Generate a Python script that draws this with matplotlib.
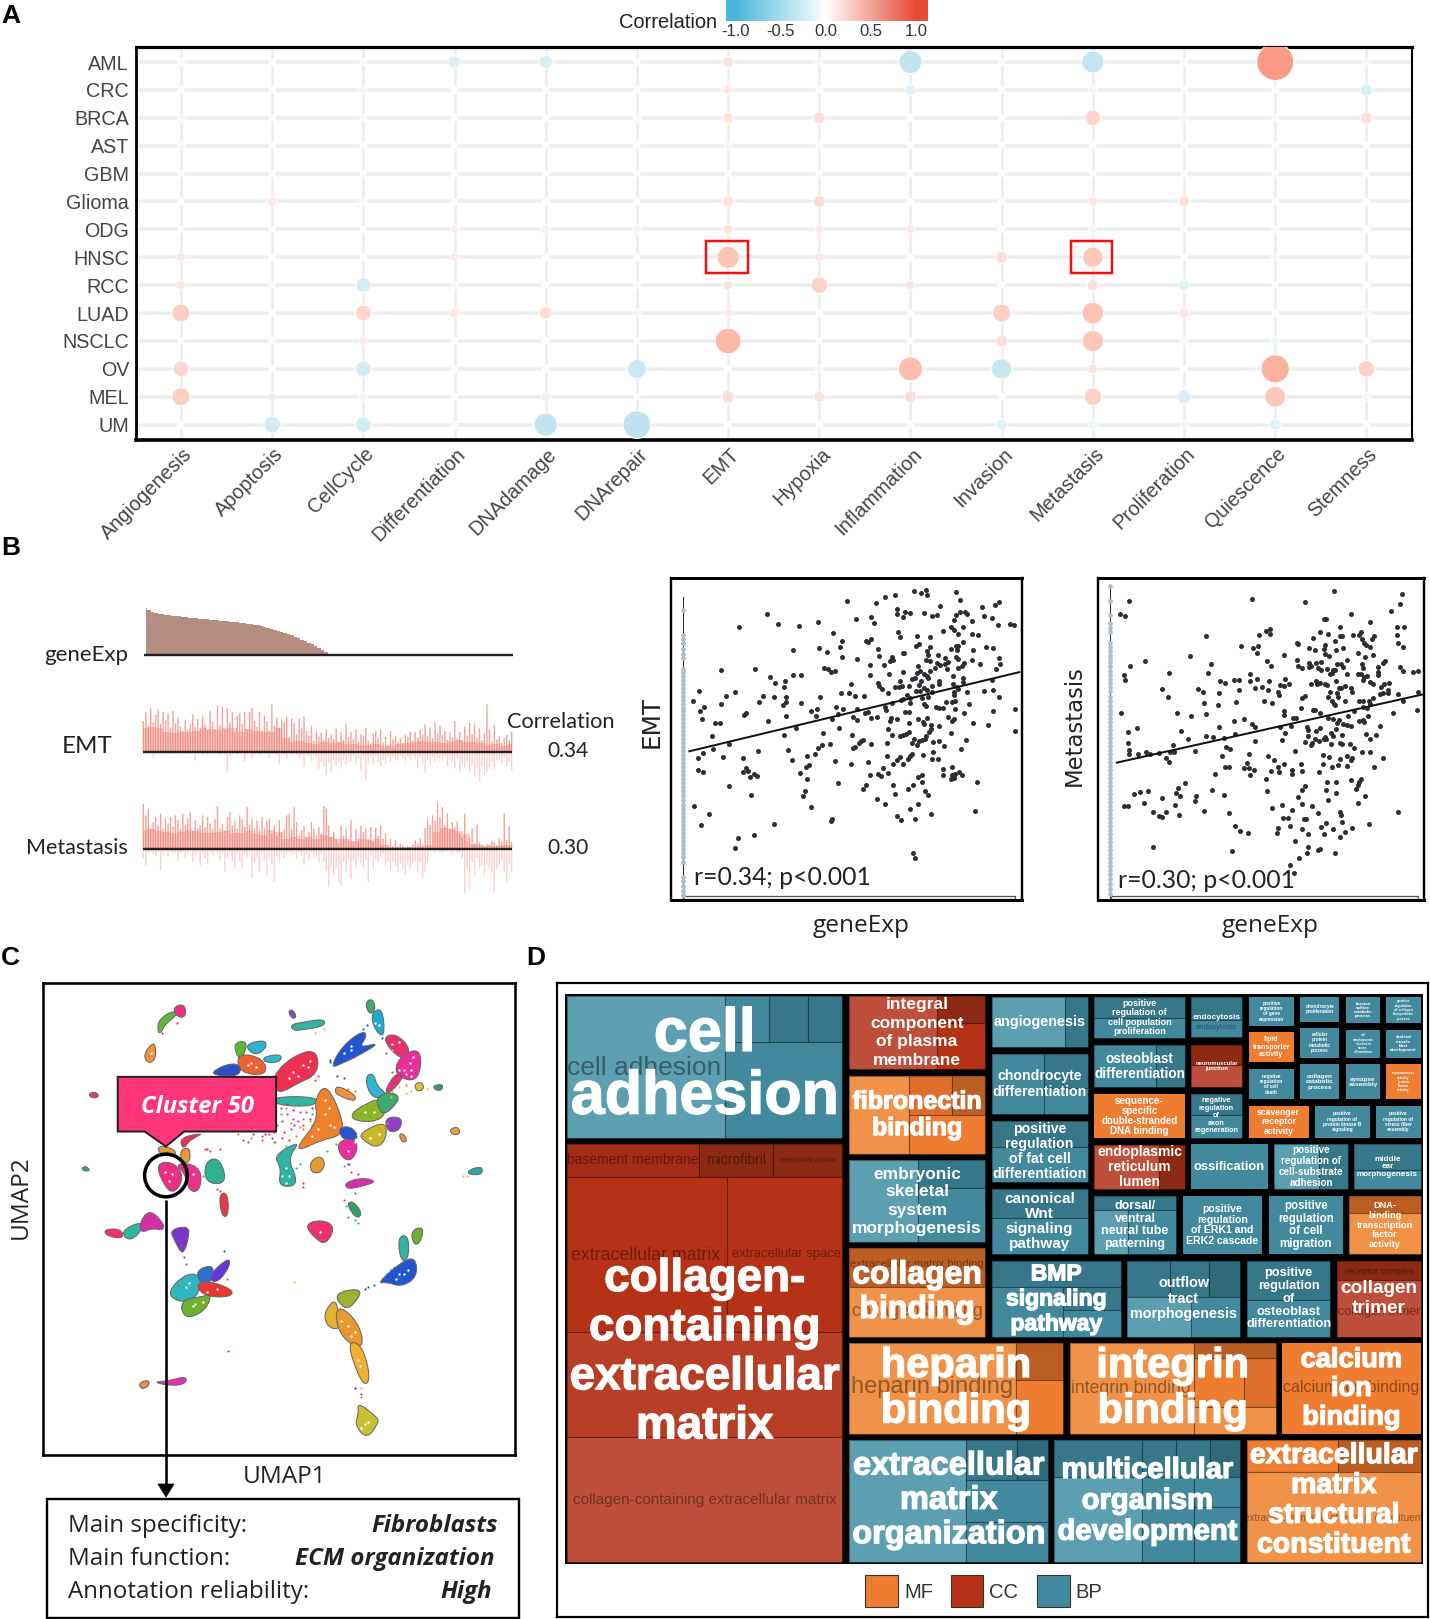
import numpy as np
import matplotlib
matplotlib.use("Agg")
import matplotlib.pyplot as plt
import matplotlib.patheffects as pe
from matplotlib.colors import LinearSegmentedColormap
from matplotlib.patches import Rectangle, Polygon, Ellipse, PathPatch
from matplotlib.path import Path

W, H = 1430, 1619
ARIAL = "Liberation Sans"
BODY = "Lato"

# ---------- Panel A data ----------
pathways = ["Angiogenesis", "Apoptosis", "CellCycle", "Differentiation", "DNAdamage", "DNArepair", "EMT",
            "Hypoxia", "Inflammation", "Invasion", "Metastasis", "Proliferation", "Quiescence", "Stemness"]
cancers = ["AML", "CRC", "BRCA", "AST", "GBM", "Glioma", "ODG", "HNSC", "RCC", "LUAD", "NSCLC", "OV", "MEL", "UM"]
r_AML = [.01, 0, .01, -.12, -.15, 0, .10, .02, -.36, .01, -.34, .01, .66, .03]
r_CRC = [0, -.01, .03, 0, 0, 0, .06, 0, -.09, 0, -.04, 0, 0, -.12]
r_BRCA = [.02, 0, .01, 0, 0, -.03, .09, .12, 0, 0, .2, -.05, .01, .12]
r_AST = [.02, 0, 0, 0, 0, 0, .03, .01, 0, 0, 0, 0, 0, 0]
r_GBM = [0, 0, 0, 0, 0, 0, 0, 0, 0, 0, 0, 0, 0, 0]
r_Glioma = [0, .06, .02, 0, -.02, 0, .1, .12, 0, .01, .07, .1, 0, 0]
r_ODG = [0, 0, 0, .04, -.06, -.05, .08, .05, .05, 0, .03, 0, .02, 0]
r_HNSC = [.06, 0, 0, .05, 0, 0, .34, .06, 0, .12, .30, 0, .02, 0]
r_RCC = [.06, 0, -.18, .02, 0, .01, .08, .22, .07, 0, .1, -.1, 0, 0]
r_LUAD = [.25, 0, .2, .07, .14, .03, .05, 0, 0, .25, .33, .08, 0, .03]
r_NSCLC = [0, 0, .05, 0, 0, 0, .42, 0, 0, .12, .32, -.03, -.06, 0]
r_OV = [.2, 0, -.2, 0, -.02, -.27, 0, .02, .38, -.3, .08, 0, .47, .22]
r_MEL = [.25, .05, -.04, 0, -.07, 0, .14, .1, .12, 0, .24, -.16, .31, -.04]
r_UM = [0, -.22, -.2, .01, -.36, -.46, 0, 0, .01, -.1, -.06, -.04, -.1, 0]
corr_rows = [r_AML, r_CRC, r_BRCA, r_AST, r_GBM, r_Glioma, r_ODG, r_HNSC, r_RCC, r_LUAD, r_NSCLC, r_OV, r_MEL, r_UM]
highlight = [("EMT", "HNSC"), ("Metastasis", "HNSC")]
cbar_ticks = [-1.0, -0.5, 0.0, 0.5, 1.0]

# ---------- Panel B data ----------
gene_exp = [47, 45, 43, 42, 41, 40.5, 40, 39.5, 39, 38.7, 38.3, 38, 37.5, 37, 36.7, 36.3, 36, 35.7, 35.3, 35, 34.7,
            34.4, 34, 33.7, 33.4, 33, 32.7, 32.3, 32, 31.5, 31, 30.5, 30, 29.3, 28.6, 27.8, 27, 26, 25, 24, 23, 21.8,
            20.5, 19.2, 17.8, 16.4, 15, 13.5, 12, 10.3, 8.5, 6.5, 4.5, 2.5, 1]
emt_up = [92, 118, 78, 130, 88, 110, 128, 82, 120, 95, 115, 72, 122, 85, 104, 75, 62, 96, 66, 82,
          112, 74, 98, 70, 108, 84, 64, 122, 90, 66, 138, 78, 135, 68, 130, 88, 118, 58, 108, 115,
          84, 120, 66, 118, 132, 92, 74, 120, 64, 108, 92, 64, 142, 78, 102, 72, 96, 88, 106, 45,
          100, 85, 52, 100, 72, 105, 62, 48, 78, 32, 62, 45, 56, 34, 66, 42, 52, 38, 70, 28,
          58, 36, 82, 44, 60, 38, 66, 30, 52, 48, 72, 34, 24, 54, 62, 40, 66, 28, 44, 20,
          62, 38, 48, 30, 40, 26, 50, 44, 60, 32, 58, 42, 66, 50, 82, 46, 72, 40, 88, 56,
          78, 50, 62, 36, 58, 44, 92, 40, 60, 34, 76, 48, 86, 52, 82, 40, 70, 34, 56, 142,
          66, 30, 80, 36, 46, 26, 40, 50, 34, 60]
emt_down = [0, 4, 2, 6, 20, 3, 2, 5, 2, 6, 2, 4, 3, 2, 5, 2, 3, 4, 2, 3,
            4, 26, 6, 3, 8, 4, 10, 2, 5, 3, 6, 12, 4, 8, 62, 14, 6, 3, 10, 5,
            4, 30, 6, 3, 22, 8, 4, 12, 3, 6, 5, 18, 4, 3, 8, 36, 5, 10, 22, 6,
            12, 4, 8, 20, 10, 46, 6, 14, 28, 10, 20, 52, 30, 44, 70, 36, 60, 24, 42, 30,
            50, 24, 38, 16, 30, 12, 40, 20, 58, 14, 84, 36, 18, 40, 14, 32, 44, 24, 36, 16,
            30, 18, 24, 28, 12, 20, 34, 16, 24, 12, 22, 50, 18, 36, 64, 24, 40, 16, 30, 20,
            18, 26, 14, 44, 24, 30, 50, 22, 60, 36, 48, 28, 64, 40, 74, 50, 88, 44, 70, 62,
            48, 30, 56, 26, 24, 36, 20, 44, 30, 58]
met_up = [135, 100, 120, 60, 80, 95, 70, 105, 60, 90, 75, 95, 65, 100, 85, 60, 105, 70, 90, 110,
          55, 85, 60, 70, 100, 65, 95, 75, 60, 88, 128, 60, 75, 55, 95, 110, 70, 85, 60, 100,
          88, 65, 125, 70, 90, 60, 85, 55, 95, 60, 85, 90, 45, 70, 38, 85, 50, 60, 100, 105,
          60, 125, 80, 40, 55, 68, 35, 50, 80, 60, 40, 65, 45, 128, 120, 70, 35, 50, 30, 15,
          70, 38, 60, 25, 85, 20, 60, 30, 70, 50, 62, 28, 65, 20, 62, 40, 70, 30, 45, 12,
          30, 8, 26, 6, 14, 10, 4, 8, 6, 12, 25, 16, 30, 10, 62, 90, 72, 100, 85, 140,
          95, 125, 70, 105, 60, 80, 65, 82, 45, 35, 105, 20, 30, 60, 15, 72, 18, 10, 6, 14,
          12, 24, 18, 10, 30, 22, 105, 26, 68, 20]
met_down = [30, 50, 12, 8, 15, 20, 10, 65, 18, 8, 25, 10, 15, 12, 38, 15, 10, 30, 14, 8,
            42, 20, 14, 50, 18, 28, 45, 12, 20, 8, 18, 35, 14, 70, 28, 12, 38, 60, 18, 40,
            60, 15, 28, 12, 90, 42, 25, 70, 18, 35, 85, 30, 50, 100, 22, 44, 15, 30, 18, 10,
            20, 14, 30, 12, 22, 48, 16, 34, 12, 24, 28, 42, 18, 38, 66, 115, 50, 80, 60, 100,
            110, 40, 70, 30, 90, 38, 60, 25, 44, 58, 34, 100, 20, 55, 30, 40, 24, 18, 50, 40,
            66, 38, 52, 70, 46, 60, 78, 50, 62, 44, 36, 70, 42, 88, 70, 40, 8, 5, 10, 6,
            10, 14, 8, 6, 10, 18, 6, 12, 12, 30, 135, 60, 120, 40, 75, 28, 60, 50, 80, 48,
            60, 70, 130, 60, 48, 34, 68, 100, 44, 70]
emt_body = [70, 75, 72, 60, 55, 60, 58, 62, 70, 68, 65, 70, 72, 60, 68, 62, 60, 60, 70, 40,
            30, 32, 25, 22, 28, 26, 30, 22, 24, 20, 20, 22, 18, 18, 22, 26, 30, 32, 28, 30,
            26, 30, 34, 30, 30, 25, 20, 22, 18, 24]
met_body = [55, 60, 52, 50, 48, 50, 55, 52, 48, 46, 50, 52, 46, 48, 52, 45, 40, 55, 50, 30,
            35, 30, 34, 28, 40, 35, 28, 30, 22, 30, 25, 28, 12, 6, 4, 4, 5, 8, 10, 50,
            62, 60, 52, 45, 14, 10, 8, 8, 10, 12]

emt_pts = [(732,48),(753,55),(769,46),(772,61),(858,51),(675,61),(644,67),(619,83),(531,78),(869,74),(988,81),(975,91),(935,95),(809,93),
(681,103),(704,110),(721,115),(681,118),(698,127),(763,113),(787,124),(800,120),(870,110),(885,111),(890,118),(858,120),(942,122),(965,129),(291,117),(604,127),(559,131),
(853,136),(907,138),(444,142),(613,145),(323,148),(388,154),(207,157),(844,155),(880,155),(983,151),(1021,146),(1033,149),(853,165),(818,168),
(489,175),(683,171),(863,177),(907,178),(925,180),(689,185),(741,183),(780,186),(603,191),(589,199),(594,201),(515,197),(878,200),
(747,206),(739,212),(509,216),(781,217),(858,212),(865,212),(842,222),(772,228),(446,220),(624,221),(948,217),(968,219),(910,224),(370,226),(472,231),(698,233),(703,234),(862,226),
(775,241),(626,243),(515,245),(665,246),(805,240),(825,250),(858,247),(988,248),(561,251),(659,258),(669,256),(767,256),(835,260),(906,256),(863,253),(781,258),
(600,271),(641,269),(801,265),(810,271),(825,267),(883,265),(990,267),(875,272),(931,268),(744,273),(865,279),(462,279),(473,282),(152,284),(256,283),(977,283),(484,290),(495,288),(781,287),(795,280),(830,282),(698,292),(740,295),(749,287),
(657,296),(369,300),(392,299),(601,300),(301,305),(762,297),(772,304),(848,302),(878,308),(727,311),(735,310),(775,308),(967,314),(346,318),(689,318),(807,318),(752,317),(878,322),
(315,325),(544,326),(623,323),(628,332),(341,336),(687,335),(697,333),(716,333),(808,328),(746,329),(785,333),(850,327),(860,334),(865,342),(636,342),(674,335),(763,338),(87,348),(196,350),(513,354),(537,352),(654,353),(770,345),(737,348),(751,346),(787,350),(853,350),(892,351),(942,346),(968,345),
(167,362),(280,362),(311,365),(349,364),(451,364),(555,362),(581,361),(710,360),(852,360),(721,368),(698,372),(692,373),(988,366),(666,382),(70,377),(267,380),(349,380),(392,383),(720,382),(757,369),(773,364),(828,380),(845,381),(855,377),
(154,387),(338,390),(497,396),(102,395),(440,400),(520,400),(561,400),(645,395),(762,385),(769,393),(797,394),(806,398),(820,398),(855,400),(897,387),(1034,402),(90,406),(424,406),(648,403),(594,410),(705,410),(717,410),(968,408),(881,413),(584,414),(503,416),(228,414),
(223,419),(347,421),(438,423),(548,424),(602,427),(622,425),(662,428),(680,430),(743,430),(835,425),(853,430),(97,430),(295,438),(487,431),(560,435),(758,440),(770,428),(660,438),(716,443),(846,436),(908,442),
(135,443),(149,443),(763,447),(783,448),(955,449),(378,459),(508,458),(655,460),(807,452),(718,471),(782,462),(1034,466),(708,475),(460,474),(342,479),(547,479),(776,469),(843,474),
(125,483),(665,478),(689,483),(700,480),(767,482),(733,490),(889,495),(580,495),(572,498),(568,503),(177,507),(480,505),(456,510),(604,505),(650,503),(725,503),(747,497),(755,495),(765,492),(788,500),(808,497),(740,510),(823,512),(550,518),(555,514),
(443,517),(129,522),(355,525),(264,527),(873,520),(98,533),(790,531),(758,538),(725,535),(720,541),(434,536),(411,541),(652,543),(690,544),(84,549),(160,546),(218,548),(714,550),(680,554),(786,552),(804,552),(365,553),
(495,558),(544,565),(595,560),(669,566),(700,565),(417,569),(407,574),(638,579),(228,578),(847,574),(820,582),(84,584),(98,589),(233,586),(220,591),(390,593),(818,598),(868,590),(625,597),(653,594),(601,598),(634,603),(877,598),(845,600),(855,597),
(253,597),(241,604),(262,603),(743,605),(756,600),(412,612),(842,610),(852,608),(922,620),(504,622),(757,620),(176,632),(669,628),(587,630),(580,640),(729,630),(713,640),
(406,646),(244,658),(398,662),(764,648),(773,659),(676,656),(621,671),(646,686),(744,687),(73,691),(424,696),(719,702),(914,706),
(117,715),(782,716),(680,721),(487,730),(482,736),(692,735),(735,731),(94,750),(311,746),(252,780),(205,787),(195,819),(730,833),(736,847)]
emt_fit = [(58,528),(1048,291)]
emt_zero = [105,180,192,203,222,236,250,282,292,303,314,326,337,349,362,374,386,397,408,420,432,444,456,468,480,492,504,516,528,540,552,564,576,588,600,612,624,636,648,660,674,688,700,712,724,736,750,762,774,786,798,808,820,834,846,860,904,918,932,946,960]

met_pts = [(718,49),(924,58),(470,72),(99,78),(631,82),(916,88),(891,108),(72,117),(87,122),(769,116),(687,131),(693,131),(827,141),
(737,155),(907,157),(930,155),(524,161),(514,167),(525,176),(676,172),(701,178),(907,179),(332,183),(492,180),(656,188),(737,183),(743,183),(775,180),(795,179),(800,172),(838,183),(832,192),(722,197),(803,192),(810,203),(910,203),(607,205),(610,208),(815,210),(692,210),(438,213),(487,214),(474,219),(642,218),(688,222),(662,226),(725,225),(745,220),(828,215),(928,216),(484,235),(692,238),(568,240),(282,242),(790,235),(702,242),(813,245),(835,240),(517,257),(148,257),(607,256),(758,256),(873,259),(865,265),(347,268),(101,272),(528,274),(608,273),(621,278),(644,265),(649,272),(664,265),(680,260),(642,277),(670,279),(727,267),(740,268),(745,276),(803,267),(805,278),(851,275),(918,277),(678,284),(698,283),(714,285),(720,285),(712,293),(705,297),(852,292),(852,300),(928,289),(958,292),(972,289),(220,295),(338,295),(85,300),(87,316),(463,298),(758,298),(790,298),(800,297),(810,305),(818,302),(465,317),(486,311),(417,314),(430,315),(373,319),(390,323),(523,318),(570,313),(723,317),(664,318),(668,328),(650,328),(676,325),(692,328),(696,330),(806,316),(826,322),(836,328),(868,327),(885,323),(556,330),(582,327),(568,333),(480,337),(500,335),(518,345),(733,337),(738,338),(752,332),(770,337),(772,349),(199,342),(308,340),(323,351),(432,345),(860,335),(880,345),(866,353),(856,356),(882,352),(371,353),(706,350),(727,352),(700,366),(730,365),(550,350),(553,360),(216,365),(630,362),(620,367),(910,355),(972,350),(712,378),(718,385),(750,378),(795,376),(805,378),(836,368),(825,376),(928,376),(508,377),(422,380),(530,383),(325,383),(369,390),(655,405),(660,403),(618,398),(805,395),(818,398),(720,388),(828,386),(245,414),(330,417),(74,414),(568,407),(566,418),(895,414),(968,403),(287,422),(675,414),(777,406),(761,422),(593,427),(604,427),(700,428),(715,432),(820,422),(417,437),(447,431),(732,433),(728,443),(745,447),(757,450),(770,453),(795,436),(805,433),(810,440),(470,447),(478,455),(370,456),(123,458),(555,456),(588,453),(637,456),(639,465),(663,466),(677,458),(858,451),(256,466),(96,470),(570,472),(420,476),(708,473),(724,461),(816,476),(844,480),(331,483),(352,485),(638,483),(692,486),(714,482),(742,480),(387,489),(278,491),(560,493),(660,491),(673,497),(688,492),(695,490),(827,492),(480,498),(630,500),(652,503),(648,510),(710,505),(735,503),(743,505),(765,505),(97,504),(231,508),(393,515),(403,521),(780,517),(298,526),(98,524),(99,537),(150,531),(126,537),(163,537),(188,533),(224,530),(235,528),(236,530),(600,526),(804,529),(828,531),(210,547),(379,542),(220,560),(461,537),(520,542),(686,540),(702,544),(758,541),(773,548),(538,554),(770,555),(737,551),(866,549),(758,572),(684,565),(454,563),(568,565),(617,565),(549,575),(712,575),(730,568),(388,575),(400,574),(445,579),(462,578),(477,585),(838,576),(528,588),(552,590),(590,585),(590,595),(622,588),(673,589),(360,595),(463,599),(514,610),(770,615),(801,610),(696,620),(725,621),(795,620),(267,622),(630,633),(620,643),(790,630),(786,641),(248,637),(517,648),(694,643),(725,654),(156,646),(133,650),(115,657),(350,644),(242,652),(253,661),(386,660),(300,662),(198,667),(610,665),(298,676),(811,661),(700,673),(145,683),(239,688),(84,692),(95,692),(792,682),(620,687),(652,693),(530,698),(560,690),(590,704),(172,710),(325,708),(402,712),(210,711),(188,722),(197,725),(250,720),(671,713),(736,710),(738,718),(910,709),(564,727),(578,727),(626,730),(633,732),(742,740),(695,744),(419,753),(548,757),(586,752),(622,760),(679,756),(715,760),(823,745),(433,768),(457,773),(545,773),(639,776),(687,777),(750,771),(773,758),(737,785),(600,798),(411,827),(170,815),(640,815),(677,820),(671,823),(721,833),(637,832),(612,847),(585,870),(598,893)]
met_fit = [(62,562),(985,358)]
met_zero = [33,78,120,143,160,172,205,216,228,240,250,262,274,288,300,312,324,336,348,366,378,392,404,416,428,440,452,464,476,488,500,512,524,536,548,560,572,584,596,608,620,632,644,656,668,680,692,704,716,728,740,752,764,776,788,800,812,824,836,848,860,872,884,896,910,926,940,955]

# ---------- Panel C data ----------
umap_colors = ['#5CB82E','#EE2F80','#F09040','#E8357F','#2AA5A8','#8E44C0','#2FB5A0','#3DAA70','#1FAACC','#2455D0',
 '#E8326F','#EA2F9A','#E8326F','#5CB82E','#2EB5D0','#2EB5D0','#F06030','#2A50C8','#F03050','#2FB5A0',
 '#F0802A','#F09040','#2EB5D0','#8DB52A','#3DAA70','#9040C8','#C8B82A','#E0C030','#30A060','#F0A030',
 '#F09040','#2AA5A8','#2455D0','#EA2F9A','#2FB5A0','#E89A30','#D42FA8','#2EA070','#F03070','#EE2F80',
 '#EE3090','#E89A30','#E89A30','#EE3060','#2FB090','#E83848','#EE3068','#2FB5A0','#D42FA8','#7A35C8',
 '#2FB5C0','#2A70D0','#6A35D8','#E83830','#70B030','#2FB5A0','#70B030','#2455D0','#A0B030','#E8B030',
 '#E89A30','#F0B030','#C8C030','#F09040','#E830B0']
umap_shapes = [
 [(462,165),(500,145),(510,155),(480,172),(470,190),(462,190)],[(505,135),(535,128),(538,155),(515,155)],
 [(420,245),(440,222),(450,225),(450,255),(430,262)],[(258,338),(275,332),(287,342),(270,347)],
 [(236,515),(248,505),(262,518)],[(838,145),(850,140),(860,155),(850,160)],
 [(850,175),(880,170),(935,163),(935,178),(880,185),(858,187)],[(1062,125),(1080,115),(1090,135),(1075,150)],
 [(1080,150),(1110,140),(1115,200),(1090,185)],[(970,270),(1000,225),(1050,195),(1062,205),(1040,230),(1095,218),(1040,245),(1000,260)],
 [(1115,210),(1150,198),(1190,232),(1165,255)],[(1165,250),(1220,235),(1212,305),(1150,290)],
 [(1150,290),(1170,300),(1130,335),(1122,325)],[(680,220),(715,215),(710,240),(695,255)],
 [(715,222),(768,212),(770,230),(740,245)],[(770,250),(815,245),(810,262),(770,262)],
 [(695,245),(760,255),(770,290),(700,285)],[(612,290),(660,268),(695,270),(690,295)],
 [(800,295),(850,255),(910,240),(915,290),(860,310),(830,325),(810,325)],[(800,345),(915,345),(905,365),(810,362)],
 [(875,450),(925,400),(915,360),(945,325),(985,395),(985,430),(930,440),(880,460)],[(975,330),(985,320),(1030,340),(1025,352),(985,340)],
 [(1065,300),(1085,292),(1095,320),(1120,335),(1100,345),(1075,335)],[(1030,380),(1060,365),(1100,350),(1115,385),(1080,400),(1030,395)],
 [(1095,350),(1125,335),(1160,345),(1130,375),(1110,380)],[(1120,395),(1165,393),(1160,420),(1130,425)],
 [(1050,430),(1115,405),(1118,440),(1095,460),(1060,445)],[(1205,315),(1225,310),(1230,325),(1212,330)],
 [(1260,318),(1285,315),(1282,328),(1265,327)],[(1308,420),(1330,415),(1335,430),(1315,432)],
 [(1160,435),(1170,430),(1182,445),(1170,450)],[(1365,515),(1398,508),(1398,525),(1362,525)],
 [(985,418),(1020,415),(1040,440),(1000,445)],[(985,450),(1030,445),(1035,470),(1015,492),(990,478)],
 [(800,485),(870,455),(835,490),(858,530),(850,548),(812,545),(820,510)],[(905,495),(930,485),(942,500),(930,520),(905,518)],
 [(1008,545),(1050,535),(1088,542),(1050,553),(1012,558)],[(1010,597),(1025,590),(1050,615),(1035,627)],
 [(890,645),(935,635),(968,650),(945,685),(920,675)],[(458,505),(500,500),(530,530),(505,565),(480,550)],
 [(515,505),(560,505),(582,525),(575,560),(550,560),(540,525)],[(460,460),(500,465),(510,480),(470,480)],
 [(525,470),(550,465),(550,495),(530,495)],[(525,440),(590,430),(550,445),(535,465)],
 [(600,500),(630,490),(650,520),(645,545),(600,540)],[(638,575),(660,572),(662,620),(645,620)],
 [(308,655),(350,655),(355,675),(310,668)],[(355,660),(400,640),(415,650),(380,680)],
 [(410,640),(435,612),(470,640),(470,655),(440,650),(415,660)],[(498,658),(545,650),(545,675),(530,710),(510,680)],
 [(492,800),(545,760),(580,770),(570,810),(525,822)],[(575,750),(620,740),(610,780),(580,775)],
 [(612,760),(660,725),(665,740),(640,770),(620,775)],[(575,785),(610,778),(668,795),(665,810),(600,810)],
 [(530,822),(580,815),(610,810),(590,845),(540,860)],[(1158,675),(1185,672),(1185,720),(1165,725)],
 [(1195,660),(1228,650),(1222,680),(1205,690)],[(1105,778),(1165,735),(1200,725),(1205,765),(1165,785),(1130,775)],
 [(975,805),(1050,795),(1025,830),(1000,838)],[(945,850),(975,820),(985,880),(970,885),(950,875)],
 [(980,850),(1000,845),(1040,880),(1050,925),(1010,915),(985,885)],[(1015,925),(1050,930),(1072,995),(1058,1015),(1035,980)],
 [(1042,1065),(1090,1095),(1095,1105),(1065,1140),(1035,1110),(1045,1090)],[(405,1015),(430,1008),(432,1020),(412,1028)],
 [(452,1012),(490,1010),(535,1000),(535,1015),(500,1020)]]
dot_pink = [(815,370),(835,385),(850,395),(870,380),(805,410),(780,430),(820,440),(760,445),(720,450),(705,445),(610,470),(595,465),(640,465),(845,420),(880,555),(1020,520),(1040,525),(1015,500),(1030,570),(662,940),(1000,585),(880,410),(900,395),(760,435),(795,425),(840,445),(865,400),(890,380),(825,425),(775,410)]
dot_orange = [(900,400),(880,420),(860,435),(800,450),(690,430),(730,440),(830,370),(855,365),(1010,900),(1000,900),(1020,905),(1030,1025),(1048,1048),(1025,350),(1010,325),(1030,330),(800,395),(845,405),(870,415),(1125,405),(1140,330),(1180,315)]
dot_green = [(870,500),(860,510),(1005,600),(1010,625),(1040,640),(1030,632),(905,385),(830,460),(795,450),(820,350),(660,770),(590,530),(815,385),(880,395),(905,410),(950,470),(975,455),(1000,505)]
dot_purple = [(850,375),(835,360),(820,400),(1030,1025),(535,720),(540,735),(530,705),(1048,1040),(770,430),(855,410),(790,440),(735,430),(1010,500)]
dot_blue = [(1070,790),(1085,785),(1060,795),(1125,760),(1145,745),(1135,750),(958,258),(980,295),(650,705),(1065,175),(1055,185),(960,262),(1000,300),(905,370),(1110,205)]
dot_yellow = [(1195,330),(1240,325),(940,185),(915,195),(855,778),(1345,530),(1358,530),(1050,1025),(1140,235),(1160,320),(1135,345),(1180,335)]
dot_red = [(880,545),(525,690),(470,195),(515,170),(600,465),(630,560),(640,565),(1120,240),(890,265),(925,295),(915,305),(1140,285)]
dot_white = [(1190,265),(1175,280),(1200,250),(1160,215),(880,270),(850,285),(900,260),(945,385),(960,410),(925,420),(1100,430),(1060,380),(830,510),(820,530),(1185,750),(1160,760),(560,835),(590,825),(540,790),(630,795),(1010,880),(1020,905),(1040,960),(1060,1110),(1050,1120),(730,265),(500,525),(560,525),(1195,280),(1020,235),(1000,240),(930,660),(480,520),(490,540),
 (1180,290),(1195,295),(1160,280),(1140,220),(865,295),(895,275),(840,300),(945,350),(955,370),(970,415),(905,435),(1085,380),(1075,440),(840,530),(830,545),(1175,760),(1150,770),(550,780),(565,830),(600,800),(990,870),(1030,895),(1045,975),(1070,1105),(720,270),(745,275),(1088,170),(1100,175),(1030,450),(1010,470),(440,240),(1020,225)]
info_keys = ["Main specificity:", "Main function:", "Annotation reliability:"]
info_vals = ["Fibroblasts", "ECM organization", "High"]

# ---------- Panel D data ----------
tile_labels = ["cell\nadhesion", "collagen-\ncontaining\nextracellular\nmatrix", "integral\ncomponent\nof plasma\nmembrane",
 "fibronectin\nbinding", "embryonic\nskeletal\nsystem\nmorphogenesis", "collagen\nbinding", "angiogenesis",
 "chondrocyte\ndifferentiation", "positive\nregulation\nof fat cell\ndifferentiation", "canonical\nWnt\nsignaling\npathway",
 "positive\nregulation of\ncell population\nproliferation", "osteoblast\ndifferentiation", "sequence-\nspecific\ndouble-stranded\nDNA binding",
 "endoplasmic\nreticulum\nlumen", "endocytosis", "neuromuscular\njunction", "negative\nregulation\nof\naxon\nregeneration",
 "positive\nregulation\nof gene\nexpression", "chondrocyte\nproliferation", "keratan\nsulfate\ncatabolic\nprocess",
 "positive\nregulation\nof collagen\nbiosynthetic\nprocess", "lipid\ntransporter\nactivity", "cellular\nprotein\nmetabolic\nprocess",
 "cell\nmorphogenesis\ninvolved in\nneuron\ndifferentiation", "skeletal\nmuscle\nfiber\ndevelopment", "negative\nregulation\nof cell\ndeath",
 "collagen\ncatabolic\nprocess", "synapse\nassembly", "transaminase\nactivity\nprotein\nkinase\nactivity", "scavenger\nreceptor\nactivity",
 "positive\nregulation of\nprotein kinase B\nsignaling", "positive\nregulation of\nstress fiber\nassembly", "ossification",
 "positive\nregulation of\ncell-substrate\nadhesion", "middle\near\nmorphogenesis", "dorsal/\nventral\nneural tube\npatterning",
 "positive\nregulation\nof ERK1 and\nERK2 cascade", "positive\nregulation\nof cell\nmigration", "DNA-\nbinding\ntranscription\nfactor\nactivity",
 "BMP\nsignaling\npathway", "outflow\ntract\nmorphogenesis", "positive\nregulation\nof\nosteoblast\ndifferentiation", "collagen\ntrimer",
 "heparin\nbinding", "integrin\nbinding", "calcium\nion\nbinding", "extracellular\nmatrix\norganization",
 "multicellular\norganism\ndevelopment", "extracellular\nmatrix\nstructural\nconstituent"]
tile_cats = ["BP","CC","CC","MF","BP","MF","BP","BP","BP","BP","BP","BP","MF","CC","BP","CC","BP","BP","BP","BP","BP","MF","BP","BP","BP","BP","BP","BP","MF","MF","BP","BP","BP","BP","BP","BP","BP","BP","MF","BP","BP","BP","CC","MF","MF","MF","BP","BP","MF"]
tile_boxes = [(30,521,48,473),(30,521,491,1745),(533,775,48,268),(533,775,288,521),(533,775,541,785),(533,775,805,1071),
 (787,958,50,202),(787,958,222,402),(787,958,422,607),(787,958,627,822),(970,1131,50,175),(970,1131,195,322),(970,1131,342,475),(970,1131,495,628),
 (1142,1234,50,172),(1142,1234,195,322),(1142,1234,342,473),(1245,1326,50,137),(1337,1407,50,125),(1418,1480,50,130),(1491,1552,50,130),
 (1245,1326,157,247),(1337,1407,143,233),(1418,1480,150,233),(1491,1552,150,233),(1245,1326,267,358),(1337,1407,253,358),(1418,1480,253,358),(1491,1552,253,358),
 (1245,1352,378,473),(1363,1461,378,473),(1472,1552,378,473),(1142,1279,492,628),(1291,1422,492,628),(1433,1552,492,628),
 (970,1115,648,822),(1128,1269,648,822),(1281,1413,648,822),(1424,1552,648,822),(787,1017,842,1071),(1029,1230,842,1071),(1242,1391,842,1071),(1403,1552,842,1071),
 (533,914,1090,1363),(926,1294,1090,1363),(1305,1552,1090,1363),(533,888,1380,1745),(899,1230,1380,1745),(1242,1552,1380,1745)]
tile_sizes = [44,33,12.5,18,12.5,23,10.4,10.2,10.2,11,6.5,9.8,7,10,5.9,4.2,5.2,3.4,3.4,3.2,2.6,5,3.3,2,3.2,3.4,4.6,4.6,2.6,6.2,3.5,3.5,9.2,7.1,5.9,9,7.6,8.3,6.6,16.5,10.4,9.2,13.7,30,30,19.6,23.4,21,20.5]
tile_spacing = {0:1.13, 1:1.15, 2:1.3, 3:1.13, 4:1.25, 5:1.2, 8:1.1, 9:1.12, 10:1.02, 12:1.02, 13:1.07, 39:1.11, 40:1.15, 41:1.09,
                42:1.25, 43:1.18, 44:1.18, 45:1.14, 46:1.19, 47:1.13, 48:1.19}
tile_subs = {
 0:[(30,312,48,473,'l'),(312,521,185,473,'m'),(312,390,48,185,'m'),(390,460,48,185,'d'),(460,521,48,185,'d')],
 1:[(30,266,491,592,'d'),(266,397,491,592,'x'),(397,521,491,592,'x'),(30,316,592,1057,'m'),(316,521,592,1057,'m'),(30,521,1057,1370,'n'),(30,521,1370,1745,'l')],
 2:[(533,690,48,268,'l'),(690,775,48,130,'x'),(690,775,130,268,'m')],
 3:[(533,640,288,521,'l'),(640,717,288,405,'d'),(717,775,288,405,'x'),(640,775,405,521,'m')],
 4:[(533,655,541,785,'l'),(655,775,541,625,'d'),(655,775,625,785,'m')],
 5:[(533,775,805,920,'x'),(533,775,920,1071,'l')],
 6:[(787,918,50,202,'l'),(918,958,50,202,'d')],
 7:[(787,880,222,402,'m'),(880,958,222,325,'d'),(880,958,325,402,'m')],
 8:[(787,958,422,500,'d'),(787,958,500,607,'m')],
 9:[(787,958,627,715,'d'),(787,958,715,822,'m')],
 10:[(970,1131,50,115,'d'),(970,1131,115,175,'m')],
 11:[(970,1080,195,322,'m'),(1080,1131,195,322,'d')],
 13:[(970,1085,495,628,'l'),(1085,1131,495,628,'x')],
 14:[(1142,1234,50,120,'d'),(1142,1234,120,172,'m')],
 15:[(1142,1234,195,255,'x'),(1142,1234,255,322,'l')],
 16:[(1142,1234,342,405,'d'),(1142,1234,405,473,'m')],
 33:[(1291,1370,492,628,'l'),(1370,1422,492,628,'d')],
 34:[(1433,1552,492,570,'d'),(1433,1552,570,628,'m')],
 35:[(970,1115,648,690,'d'),(970,1030,690,822,'l'),(1030,1115,690,822,'m')],
 38:[(1424,1552,648,700,'x'),(1424,1552,700,822,'l')],
 39:[(787,1017,842,920,'d'),(787,915,920,1071,'m'),(915,1017,920,990,'d'),(915,1017,990,1071,'m')],
 40:[(1029,1105,842,950,'d'),(1105,1175,842,950,'d'),(1175,1230,842,950,'x'),(1029,1142,950,1071,'l'),(1142,1230,950,1071,'m')],
 41:[(1242,1391,842,960,'d'),(1242,1391,960,1071,'m')],
 42:[(1403,1552,842,900,'x'),(1403,1552,900,1071,'l')],
 43:[(533,830,1090,1363,'l'),(830,914,1090,1200,'x'),(830,914,1200,1363,'m')],
 44:[(926,1148,1090,1363,'l'),(1148,1294,1090,1135,'x'),(1148,1237,1135,1280,'m'),(1237,1294,1135,1280,'d'),(1148,1294,1280,1363,'l')],
 46:[(533,742,1380,1745,'l'),(742,832,1380,1500,'d'),(832,888,1380,1500,'x'),(742,888,1500,1625,'m'),(742,888,1625,1745,'m')],
 47:[(899,1055,1490,1745,'l'),(1055,1115,1380,1490,'d'),(1115,1177,1380,1490,'d'),(1177,1230,1380,1490,'x'),(899,1055,1380,1490,'d'),(1055,1147,1490,1745,'m'),(1147,1230,1490,1580,'m'),(1147,1230,1580,1745,'m')],
 48:[(1242,1405,1380,1475,'m'),(1405,1552,1380,1475,'x'),(1242,1552,1475,1745,'l')],
}
tile_shades = {'BP':{'l':'#5B9FB1','m':'#43899E','d':'#37778A','x':'#2F6A7B'},
               'CC':{'l':'#BE4F3A','n':'#B83E26','m':'#B63217','d':'#A62D15','x':'#8C2A14'},
               'MF':{'l':'#F09248','m':'#EE7C31','d':'#DD6E2B','x':'#BB5E24'}}
sub_labels = [("cell adhesion",168,265,19,'BP'),("basement membrane",147,540,10,'CC'),("microfibril",331,540,10,'CC'),("interstitial matrix",460,540,5.5,'CC'),
 ("extracellular matrix",170,826,12.8,'CC'),("extracellular space",422,822,9.4,'CC'),("collagen-containing extracellular matrix",276,1560,11,'CC'),
 ("extracellular matrix binding",654,853,8,'MF'),("collagen binding",654,995,13,'MF'),("heparin binding",680,1222,17,'MF'),("integrin binding",1035,1224,12.7,'MF'),
 ("calcium ion binding",1428,1223,11.5,'MF'),("extracellular matrix structural constituent",1397,1615,7.2,'MF'),("receptor complex",1478,873,6.5,'CC'),
 ("collagen trimer",1478,995,9,'CC'),("endocytosis",1188,143,5.5,'BP')]
legend_cats = ["MF", "CC", "BP"]

plt.rcParams['font.family'] = [ARIAL, 'DejaVu Sans']
fig = plt.figure(figsize=(W/100, H/100), dpi=100, facecolor='white')

def px_axes(x0, y0, x1, y1, **kw):
    return fig.add_axes([x0/W, 1-y1/H, (x1-x0)/W, (y1-y0)/H], **kw)

def pt(px):
    return px*0.72

def bare(ax):
    ax.set_xticks([]); ax.set_yticks([])
    for s in ax.spines.values():
        s.set_visible(False)
    ax.patch.set_alpha(0)

def blob_path(verts, grow=1.18):
    """Closed quadratic-Bezier outline using the polygon corners as control points."""
    v = np.array(verts, float)
    c = v.mean(axis=0)
    v = c + (v-c)*grow
    mids = (v + np.roll(v, -1, axis=0))/2
    pts, codes = [mids[-1]], [Path.MOVETO]
    for ctrl, m in zip(v, mids):
        pts += [ctrl, m]
        codes += [Path.CURVE3, Path.CURVE3]
    return Path(pts, codes)

# ---- Panel A
cmap = LinearSegmentedColormap.from_list("c", ["#4AB8D8", "#FFFFFF", "#E64B35"])
dot_cmap = LinearSegmentedColormap.from_list("d", [(0, "#9AD6E8"), (0.22, "#B8E0EC"), (0.33, "#C2E5F0"), (0.45, "#DDF1F7"),
                                                   (0.5, "#FFFFFF"), (0.53, "#FEE6E0"), (0.6, "#FDD5CB"), (0.67, "#FDC3B3"),
                                                   (0.83, "#FC9A85"), (1, "#F87A60")])
axA = px_axes(136, 47.5, 1412, 440)
axA.set_xlim(-0.493, 13.5); axA.set_ylim(13.55, -0.52)
for i in range(len(cancers)):
    axA.axhline(i, color='#EEEEEE', lw=pt(3.5), zorder=1)
for j in range(len(pathways)):
    axA.axvline(j, color='#EEEEEE', lw=pt(2.8), zorder=1)
vals = np.array(corr_rows)
yy, xx = np.mgrid[0:vals.shape[0], 0:vals.shape[1]]
diam = 6.5 + 46*np.abs(vals)
axA.scatter(xx.ravel(), yy.ravel(), s=(pt(diam.ravel()))**2, c=vals.ravel(), cmap=dot_cmap, vmin=-1, vmax=1,
            edgecolors='white', linewidths=0.7, zorder=3)
axA.set_xticks(range(len(pathways)))
axA.set_yticks(range(len(cancers)))
axA.set_yticklabels(cancers, fontsize=14.2, color='#444444')
axA.set_xticklabels(pathways, fontsize=14.3, color='#444444', rotation=45, ha='right', va='center', rotation_mode='anchor')
axA.tick_params(length=0, axis='y', pad=5)
axA.tick_params(length=0, axis='x', pad=8)
for lab in axA.get_xticklabels():
    lab.set_transform(lab.get_transform() + matplotlib.transforms.ScaledTranslation(8/100, 0, fig.dpi_scale_trans))
for name, lw in zip(['top', 'bottom', 'left', 'right'], [2.3, 2.6, 2.0, 1.5]):
    axA.spines[name].set_linewidth(lw)
for p, c in highlight:
    jx, iy = pathways.index(p), cancers.index(c)
    axA.add_patch(Rectangle((jx-0.237, iy-0.57), 0.45, 1.14, fill=False, ec='#EE1111', lw=pt(2.5), zorder=5))

axCb = px_axes(726, 0, 927.5, 21)
grad = np.clip(np.linspace(-1.1, 1.127, 256), -1, 1)
axCb.imshow(grad[None, :], cmap=cmap, vmin=-1, vmax=1, aspect='auto', extent=[-1.1, 1.127, 0, 1])
axCb.set_xticks(cbar_ticks)
axCb.set_xticklabels([f"{t:.1f}" for t in cbar_ticks], fontsize=12, color='#333333')
axCb.set_yticks([])
axCb.tick_params(axis='x', length=0, pad=2)
for s in axCb.spines.values():
    s.set_visible(False)

# ---- Panel B series
axG = px_axes(144, 600, 512.5, 660)
axG.set_xlim(0, 368.5); axG.set_ylim(-5.3, 54.7)
bare(axG)
gx = np.arange(len(gene_exp))*3.4+1.7
axG.fill_between(gx, 0, gene_exp, step='mid', color='#B58D82', lw=0)
axG.plot([0, 368.5], [0, 0], color='#222222', lw=pt(2.4), solid_capstyle='butt')

axS = px_axes(140, 690, 520, 900)
axS.set_xlim(0, 1140); axS.set_ylim(630, 0)
bare(axS)
xs = np.linspace(10, 1115, len(emt_up))
xb = np.linspace(10, 1115, len(emt_body))
for base, up, down, body in [(185, emt_up, emt_down, emt_body), (476, met_up, met_down, met_body)]:
    axS.fill_between(xb, base, base-np.array(body), step='mid', color='#EE7B6E', alpha=.4, lw=0)
    lc1 = axS.vlines(xs, base, base-np.array(up), color='#EE7B6E', alpha=.7, lw=pt(1.4))
    lc2 = axS.vlines(xs, base, base+np.array(down), color='#F6B4AD', alpha=.6, lw=pt(1.4))
    lc1.set_snap(False); lc2.set_snap(False)
    axS.plot([10, 1115], [base, base], color='#222222', lw=pt(2.4), solid_capstyle='butt')

# ---- Panel B scatter
for rect, xl, pts, fit, zero, zx, bx1, rlabel, rx, ry in [
        ((671, 578, 1022, 900.5), (3, 1056), emt_pts, emt_fit, emt_zero, 38, 1035, "r=0.34; p<0.001", 72, 905),
        ((1098, 578, 1424, 900.5), (5, 990), met_pts, met_fit, met_zero, 42, 972, "r=0.30; p<0.001", 66, 915)]:
    ax = px_axes(*rect)
    ax.set_xlim(*xl); ax.set_ylim(975, 9)
    ax.set_xticks([]); ax.set_yticks([])
    ax.plot([zx, zx], [zero[0]-40 if zx == 38 else zero[0], 970], color='#333333', lw=pt(1.1))
    ax.scatter([zx]*len(zero), zero, s=(pt(4.8))**2, color='#B0BECB', lw=0, zorder=2)
    ax.add_patch(Rectangle((zx+2, 962), bx1-zx-2, 8, fill=False, ec='#555555', lw=pt(1.3)))
    p = np.array(pts)
    ax.scatter(p[:, 0], p[:, 1], s=(pt(5))**2, color='#2B2F33', lw=0, zorder=3)
    f = np.array(fit)
    ax.plot(f[:, 0], f[:, 1], color='#111111', lw=pt(2), zorder=4)
    ax.text(rx, ry, rlabel, fontsize=17.8, family=BODY, color='#222222', va='center', ha='left', zorder=5)
    for n, s in ax.spines.items():
        s.set_linewidth(pt(3) if n in ('top', 'bottom') else pt(2.4))

# ---- Panel C
axC = px_axes(42.7, 983, 515, 1455)
axC.set_xlim(124, 1496); axC.set_ylim(1183, 77)
axC.set_xticks([]); axC.set_yticks([])
for s in axC.spines.values():
    s.set_linewidth(pt(2.6))
for verts, col in zip(umap_shapes, umap_colors):
    axC.add_patch(PathPatch(blob_path(verts), fc=col, ec='#666666', lw=pt(1), zorder=2))
for pts, col in [(dot_pink, '#EE2F80'), (dot_orange, '#F0802A'), (dot_green, '#30B090'), (dot_purple, '#8040D0'),
                 (dot_blue, '#2455D0'), (dot_yellow, '#E0C030'), (dot_red, '#E83848')]:
    p = np.array(pts)
    axC.scatter(p[:, 0], p[:, 1], s=(pt(2.2))**2, color=col, lw=0, zorder=3)
p = np.array(dot_white)
axC.scatter(p[:, 0], p[:, 1], s=(pt(2.4))**2, color='white', lw=0, zorder=3)
axC.add_patch(Polygon([(342,297),(802,297),(802,425),(535,425),(482,460),(420,425),(342,425)], closed=True,
                      fc='#FF3679', ec='#222222', lw=pt(2), zorder=6))
axC.text(574, 368, "Cluster 50", color='white', fontsize=17.2, family="Open Sans", weight='bold', style='italic',
         ha='center', va='center', zorder=7)
axC.add_patch(Ellipse((482, 528), 124, 100, fill=False, ec='black', lw=pt(3.5), zorder=7))

# ---- Panel D
axD = px_axes(557, 983, 1428, 1617)
axD.set_xlim(12, 1565); axD.set_ylim(1911, 9)
axD.set_xticks([]); axD.set_yticks([])
for s in axD.spines.values():
    s.set_linewidth(pt(2.2))
axD.add_patch(Rectangle((26, 42), 1530, 1710, fc='black', ec='none', zorder=1))
for i, (lab, cat, box, fs) in enumerate(zip(tile_labels, tile_cats, tile_boxes, tile_sizes)):
    x0, x1, y0, y1 = box
    shades = tile_shades[cat]
    axD.add_patch(Rectangle((x0, y0), x1-x0, y1-y0, fc=shades['m'], ec='none', zorder=2))
    for sx0, sx1, sy0, sy1, sh in tile_subs.get(i, []):
        axD.add_patch(Rectangle((sx0, sy0), sx1-sx0, sy1-sy0, fc=shades[sh], ec='#00000055', lw=0.8, zorder=3))
    t = axD.text((x0+x1)/2, (y0+y1)/2, lab, color='white', fontsize=fs, weight='bold', ha='center', va='center',
                 linespacing=tile_spacing.get(i, 1.1), zorder=6)
    if fs >= 15:
        t.set_path_effects([pe.withStroke(linewidth=0.9, foreground='white')])
for txt, x, y, fs, cat in sub_labels:
    axD.text(x, y, txt, fontsize=fs, color='#00000066', ha='center', va='center', zorder=5)
for name, sx, tx in zip(legend_cats, [562, 714, 868], [631, 783, 937]):
    axD.add_patch(Rectangle((sx, 1785), 58, 95, fc=tile_shades[name]['m'], ec='#333333', lw=0.8, zorder=3))
    axD.text(tx, 1837, name, fontsize=14.5, color='#333333', ha='left', va='center', zorder=3)

# ---- Overlay: labels
ov = px_axes(0, 0, W, H, zorder=20)
ov.set_xlim(0, W); ov.set_ylim(H, 0)
bare(ov)
for t, x, y in [("A", 1, 16), ("B", 1, 548), ("C", 1, 958), ("D", 526, 958)]:
    ov.text(x, y, t, fontsize=19, weight='bold', ha='left', va='center', color='black')
ov.text(717, 22, "Correlation", fontsize=14.4, ha='right', va='center', color='#222222')
body = dict(family=BODY, color='#222222')
ov.text(128, 655, "geneExp", fontsize=16, ha='right', va='center', **body)
ov.text(113, 746, "EMT", fontsize=17.4, ha='right', va='center', **body)
ov.text(128, 848, "Metastasis", fontsize=15.5, ha='right', va='center', **body)
ov.text(561, 722, "Correlation", fontsize=15.7, ha='center', va='center', **body)
ov.text(568, 750.5, "0.34", fontsize=15, ha='center', va='center', **body)
ov.text(568, 848, "0.30", fontsize=15, ha='center', va='center', **body)
ov.text(652, 722, "EMT", fontsize=17.8, ha='center', va='center', rotation=90, family='DejaVu Sans', color='#222222')
ov.text(1074, 726, "Metastasis", fontsize=16.4, ha='center', va='center', rotation=90, family='DejaVu Sans', color='#222222')
ov.text(861, 926, "geneExp", fontsize=17.6, ha='center', va='center', family='Open Sans', color='#222222')
ov.text(1270, 926, "geneExp", fontsize=17.6, ha='center', va='center', family='Open Sans', color='#222222')
ov.text(285, 1477, "UMAP1", fontsize=17.6, ha='center', va='center', family='Open Sans', color='#222222')
ov.text(21, 1197, "UMAP2", fontsize=17.6, ha='center', va='center', rotation=90, family='Open Sans', color='#222222')
ov.plot([166, 166], [1200, 1485], color='black', lw=pt(2.6), solid_capstyle='butt')
ov.add_patch(Polygon([(158, 1484), (174, 1484), (166, 1497)], closed=True, fc='black', ec='black', lw=0.5))
ov.add_patch(Rectangle((47, 1499), 472, 119, fill=False, ec='black', lw=pt(2.4)))
for y, k, v, xr in zip([1526, 1559, 1592], info_keys, info_vals, [498, 495, 492]):
    ov.text(68, y, k, fontsize=17.4, family="Open Sans", ha='left', va='center', color='#222222')
    ov.text(xr, y, v, fontsize=17.4, family="Open Sans", weight='bold', style='italic', ha='right', va='center', color='#222222')

fig.savefig("out.png", dpi=100, facecolor='white')
